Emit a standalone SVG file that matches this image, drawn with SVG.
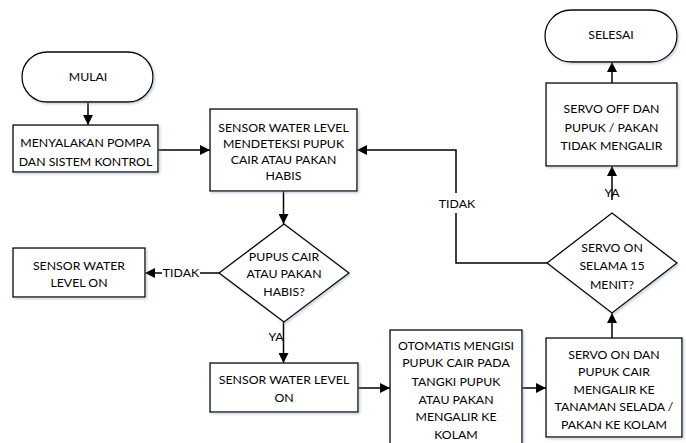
<svg xmlns="http://www.w3.org/2000/svg" width="686" height="443" viewBox="0 0 686 443">
<style>
.s{fill:#fff;stroke:#000;stroke-width:1.3;filter:url(#sh)}
.t{font-family:Lato,"Liberation Sans",sans-serif;font-size:12.3px;fill:#000;text-anchor:middle}
.c{fill:none;stroke:#000;stroke-width:1.5}
</style>
<defs>
<filter id="sh" x="-10%" y="-10%" width="130%" height="130%">
<feDropShadow dx="1.5" dy="1.5" stdDeviation="1" flood-color="#8898b0" flood-opacity="0.45"/>
</filter>
<marker id="a" viewBox="0 0 10 10" refX="10" refY="5" markerWidth="10" markerHeight="10" markerUnits="userSpaceOnUse" orient="auto">
<path d="M0,0 L10,5 L0,10 Z" fill="#000"/>
</marker>
</defs>
<g id="connectors">
<path class="c" d="M88,102 V125" marker-end="url(#a)"/>
<path class="c" d="M158,150 H210" marker-end="url(#a)"/>
<path class="c" d="M283.5,191 V224" marker-end="url(#a)"/>
<path class="c" d="M219,273 H200"/>
<path class="c" d="M162,273 H145" marker-end="url(#a)"/>
<text class="t" x="181" y="277">TIDAK</text>
<path class="c" d="M283.5,322 V363" marker-end="url(#a)"/>
<text class="t" x="276" y="341">YA</text>
<path class="c" d="M358,388 H390" marker-end="url(#a)"/>
<path class="c" d="M522,388 H546" marker-end="url(#a)"/>
<path class="c" d="M612,338 V313" marker-end="url(#a)"/>
<path class="c" d="M547,263 H456 V213"/>
<path class="c" d="M456,193 V150 H357" marker-end="url(#a)"/>
<text class="t" x="457" y="208">TIDAK</text>
<path class="c" d="M612,200 V166" marker-end="url(#a)"/>
<text class="t" x="612" y="197">YA</text>
<path class="c" d="M612,83 V62" marker-end="url(#a)"/>
</g>
<g id="mulai">
<rect class="s" x="22" y="52" width="131" height="50" rx="25"/>
<text class="t" x="88" y="81">MULAI</text>
</g>
<g id="menyalakan">
<rect class="s" x="13" y="125" width="145" height="47"/>
<text class="t" x="85.5" y="147">MENYALAKAN POMPA</text>
<text class="t" x="85.5" y="166">DAN SISTEM KONTROL</text>
</g>
<g id="sensor-deteksi">
<rect class="s" x="210" y="109" width="147" height="82"/>
<text class="t" x="283.5" y="132">SENSOR WATER LEVEL</text>
<text class="t" x="283.5" y="148">MENDETEKSI PUPUK</text>
<text class="t" x="283.5" y="164">CAIR ATAU PAKAN</text>
<text class="t" x="283.5" y="180">HABIS</text>
</g>
<g id="pupus">
<path class="s" d="M284,224 L349,273 L284,322 L219,273 Z"/>
<text class="t" x="284" y="261">PUPUS CAIR</text>
<text class="t" x="284" y="278">ATAU PAKAN</text>
<text class="t" x="284" y="296">HABIS?</text>
</g>
<g id="sensor-on-left">
<rect class="s" x="13" y="248" width="132" height="49"/>
<text class="t" x="79" y="270">SENSOR WATER</text>
<text class="t" x="79" y="287">LEVEL ON</text>
</g>
<g id="sensor-on">
<rect class="s" x="210" y="363" width="148" height="49"/>
<text class="t" x="284" y="384">SENSOR WATER LEVEL</text>
<text class="t" x="284" y="402">ON</text>
</g>
<g id="otomatis">
<rect class="s" x="390" y="330" width="132" height="130"/>
<text class="t" x="456" y="350">OTOMATIS MENGISI</text>
<text class="t" x="456" y="367">PUPUK CAIR PADA</text>
<text class="t" x="456" y="386">TANGKI PUPUK</text>
<text class="t" x="456" y="404">ATAU PAKAN</text>
<text class="t" x="456" y="421">MENGALIR KE</text>
<text class="t" x="456" y="439">KOLAM</text>
</g>
<g id="servo-on">
<rect class="s" x="546" y="338" width="136" height="99"/>
<text class="t" x="614" y="359">SERVO ON DAN</text>
<text class="t" x="614" y="376">PUPUK CAIR</text>
<text class="t" x="614" y="394">MENGALIR KE</text>
<text class="t" x="614" y="411">TANAMAN SELADA /</text>
<text class="t" x="614" y="429">PAKAN KE KOLAM</text>
</g>
<g id="servo-15">
<path class="s" d="M612,213 L677,263 L612,313 L547,263 Z"/>
<text class="t" x="612" y="252">SERVO ON</text>
<text class="t" x="612" y="270">SELAMA 15</text>
<text class="t" x="612" y="289">MENIT?</text>
</g>
<g id="servo-off">
<rect class="s" x="546" y="83" width="131" height="83"/>
<text class="t" x="611.5" y="113">SERVO OFF DAN</text>
<text class="t" x="611.5" y="132">PUPUK / PAKAN</text>
<text class="t" x="611.5" y="150">TIDAK MENGALIR</text>
</g>
<g id="selesai">
<rect class="s" x="545" y="10" width="132" height="52" rx="26"/>
<text class="t" x="611" y="39">SELESAI</text>
</g>
</svg>
